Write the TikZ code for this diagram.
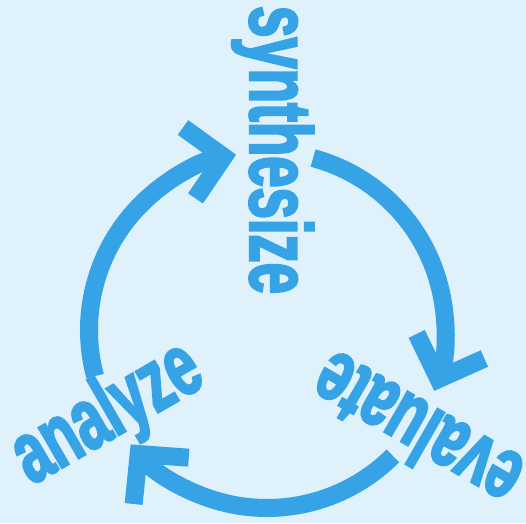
\documentclass[tikz,border=0pt]{standalone}
\usepackage{fontspec}
\newfontfamily\cyclefont{Liberation Sans Bold}[FakeStretch=0.64,FakeBold=2.5]
\usetikzlibrary{arrows.meta,calc}

\begin{document}
\begin{tikzpicture}[x=1pt,y=1pt,
  cycle arc/.style={draw=cycleblue,line width=18pt,
    -{Straight Barb[length=35pt,width=72pt,line width=18pt]}},
  stage/.style={text=cycleblue,inner sep=0pt,anchor=base,
    font=\cyclefont\fontsize{88}{88}\selectfont}]
\definecolor{cycleblue}{HTML}{36A3E6}
\definecolor{backblue}{HTML}{DFF1FB}
\def\r{178}
\fill [backblue] (-267,-193) rectangle (259,330);
\useasboundingbox (-267,-193) rectangle (259,330);
% the three arcs, clockwise
\foreach \s in {75,-45,-165}
\draw [cycle arc] (\s:\r) arc [start angle=\s, delta angle=-95, radius=\r];
% stage labels, read towards the middle
\foreach \a/\word/\name in {90/synthesize/synth,-30/evaluate/eval,210/analyze/anal}
\node [stage,rotate=\a+180] (\name) at ($(\a:180)+(\a-90:-17)$) {\word};
\end{tikzpicture}
\end{document}
